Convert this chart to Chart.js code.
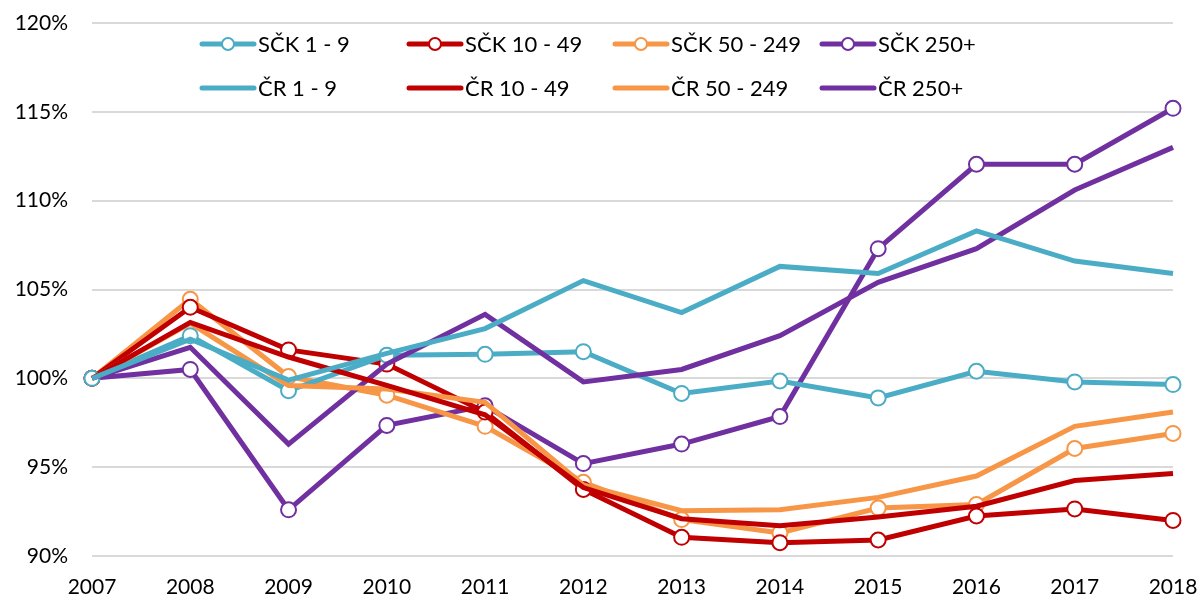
<!DOCTYPE html>
<html>
<head>
<meta charset="utf-8">
<script src="https://cdn.jsdelivr.net/npm/chart.js@4"></script>
<style>
  body { margin: 0; background: #fff; }
  #wrap { width: 1200px; height: 599px; }
</style>
</head>
<body>
<div id="wrap"><canvas id="chart"></canvas></div>
<script>
const years = ["2007", "2008", "2009", "2010", "2011", "2012", "2013", "2014", "2015", "2016", "2017", "2018"];

// SČK = Středočeský kraj, ČR = Česká republika (index 2007 = 100 %)
const sck_1_9 = [100, 102.4, 99.3, 101.3, 101.35, 101.5, 99.15, 99.85, 98.9, 100.4, 99.8, 99.65];
const sck_10_49 = [100, 104.0, 101.6, 100.8, 98.1, 93.75, 91.05, 90.75, 90.9, 92.25, 92.65, 92.0];
const sck_50_249 = [100, 104.45, 100.1, 99.05, 97.3, 94.15, 92.05, 91.3, 92.7, 92.9, 96.05, 96.9];
const sck_250 = [100, 100.5, 92.6, 97.35, 98.45, 95.2, 96.3, 97.85, 107.3, 112.05, 112.05, 115.2];

const cr_1_9 = [100, 102.2, 99.9, 101.4, 102.8, 105.5, 103.7, 106.3, 105.9, 108.3, 106.6, 105.9];
const cr_10_49 = [100, 103.15, 101.2, 99.6, 97.95, 93.85, 92.1, 91.7, 92.2, 92.8, 94.25, 94.65];
const cr_50_249 = [100, 103.1, 99.6, 99.4, 98.65, 94.0, 92.55, 92.6, 93.3, 94.5, 97.3, 98.1];
const cr_250 = [100, 101.75, 96.3, 100.8, 103.6, 99.8, 100.5, 102.4, 105.4, 107.3, 110.6, 113.0];

const COLORS = {
    cyan: "#4BACC6",
    red: "#C00000",
    orange: "#F79646",
    purple: "#7030A0",
};

const FONT = "Lato, 'Open Sans', sans-serif";

// SČK series (with markers) are drawn underneath the ČR series
function sckSet(label, data, color) {
    return {
        label: label,
        data: data,
        borderColor: color,
        backgroundColor: "#ffffff",
        borderWidth: 5,
        pointRadius: 7.5,
        pointBorderWidth: 2,
        pointBorderColor: color,
        pointBackgroundColor: "#ffffff",
        tension: 0,
        order: 2,
    };
}

function crSet(label, data, color) {
    return {
        label: label,
        data: data,
        borderColor: color,
        backgroundColor: color,
        borderWidth: 5,
        pointRadius: 0,
        tension: 0,
        order: 1,
    };
}

const datasets = [
    sckSet("SČK 1 - 9", sck_1_9, COLORS.cyan),
    sckSet("SČK 10 - 49", sck_10_49, COLORS.red),
    sckSet("SČK 50 - 249", sck_50_249, COLORS.orange),
    sckSet("SČK 250+", sck_250, COLORS.purple),
    crSet("ČR 1 - 9", cr_1_9, COLORS.cyan),
    crSet("ČR 10 - 49", cr_10_49, COLORS.red),
    crSet("ČR 50 - 249", cr_50_249, COLORS.orange),
    crSet("ČR 250+", cr_250, COLORS.purple),
];

// Excel-like legend grid: 4 columns x 2 rows, inside the plot area
const gridLegend = {
    id: "gridLegend",
    afterDraw(chart) {
        const ctx = chart.ctx;
        const colX = [200, 407, 613, 820];
        const rowY = [44, 88];
        ctx.save();
        ctx.font = "22px " + FONT;
        ctx.textBaseline = "middle";
        chart.data.datasets.forEach((ds, i) => {
            const x = colX[i % 4];
            const y = rowY[Math.floor(i / 4)];
            ctx.strokeStyle = ds.borderColor;
            ctx.lineWidth = 5;
            ctx.lineCap = "round";
            ctx.beginPath();
            ctx.moveTo(x + 2, y);
            ctx.lineTo(x + 54, y);
            ctx.stroke();
            if (ds.pointRadius > 0) {
                ctx.beginPath();
                ctx.arc(x + 28, y, 6, 0, Math.PI * 2);
                ctx.fillStyle = "#fff";
                ctx.fill();
                ctx.lineWidth = 2;
                ctx.stroke();
            }
            ctx.fillStyle = "#000";
            ctx.fillText(ds.label, x + 58, y + 1);
        });
        ctx.restore();
    },
};

new Chart(document.getElementById("chart"), {
    type: "line",
    data: {
        labels: years,
        datasets: datasets,
    },
    options: {
        responsive: true,
        maintainAspectRatio: false,
        animation: false,
        layout: {
            padding: { left: 0, right: 27, top: 23, bottom: 0 },
        },
        plugins: {
            legend: { display: false },
            tooltip: { enabled: false },
        },
        scales: {
            x: {
                offset: false,
                afterFit(scale) {
                    scale.height = 43;
                    scale.paddingLeft = 0;
                    scale.paddingRight = 0;
                },
                grid: { display: false },
                border: { display: false },
                ticks: {
                    color: "#000",
                    font: { family: FONT, size: 21 },
                    padding: 11,
                    maxRotation: 0,
                },
            },
            y: {
                min: 90,
                max: 120,
                afterFit(scale) {
                    scale.width = 92;
                    scale.paddingTop = 0;
                    scale.paddingBottom = 0;
                },
                grid: {
                    color: "#d9d9d9",
                    lineWidth: 2,
                    drawTicks: false,
                },
                border: { display: false },
                ticks: {
                    stepSize: 5,
                    color: "#000",
                    padding: 24,
                    font: { family: FONT, size: 21 },
                    callback: (v) => v + "%",
                },
            },
        },
    },
    plugins: [gridLegend],
});
</script>
</body>
</html>
